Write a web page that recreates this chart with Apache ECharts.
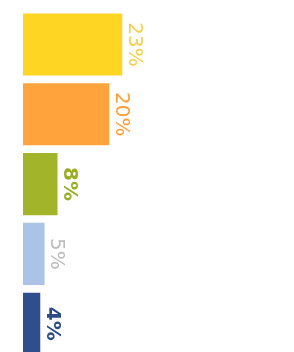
<!DOCTYPE html>
<html>
<head>
<meta charset="utf-8">
<script src="https://cdn.jsdelivr.net/npm/echarts@6/dist/echarts.min.js"></script>
<style>
  html, body { margin: 0; padding: 0; background: #fff; }
  #chart { width: 294px; height: 352px; }
</style>
</head>
<body>
<div id="chart"></div>
<script>
// data
const categories = ["A", "B", "C", "D", "E"];
const values = [23, 20, 8, 5, 4];
const barColors = ["#ffd524", "#ffa43c", "#a2b52a", "#abc3e4", "#2f4f8c"];
const labelColors = ["#f5cf4a", "#ff9f33", "#9aae24", "#bdbdbd", "#2c4a86"];
const labelWeights = ["normal", "normal", "bold", "normal", "bold"];

const chart = echarts.init(document.getElementById("chart"));

const option = {
  animation: false,
  grid: { left: 20.4, width: 259, top: 9.6, height: 349, outerBoundsMode: "none", containLabel: false },
  xAxis: {
    type: "value",
    min: -0.6,
    max: 59.4,
    show: false,
  },
  yAxis: {
    type: "category",
    data: categories,
    inverse: true,
    show: false,
  },
  series: [
    {
      type: "bar",
      barCategoryGap: "11%",
      data: values.map((v, i) => ({
        value: v,
        itemStyle: { color: barColors[i] },
        label: { color: labelColors[i], fontWeight: labelWeights[i] },
      })),
      label: {
        show: true,
        position: "right",
        distance: 2,
        rotate: -90,
        align: "center",
        verticalAlign: "bottom",
        fontFamily: "DejaVu Sans",
        fontSize: 20,
        formatter: (p) => p.value + "%",
      },
    },
  ],
};

chart.setOption(option);
</script>
</body>
</html>
